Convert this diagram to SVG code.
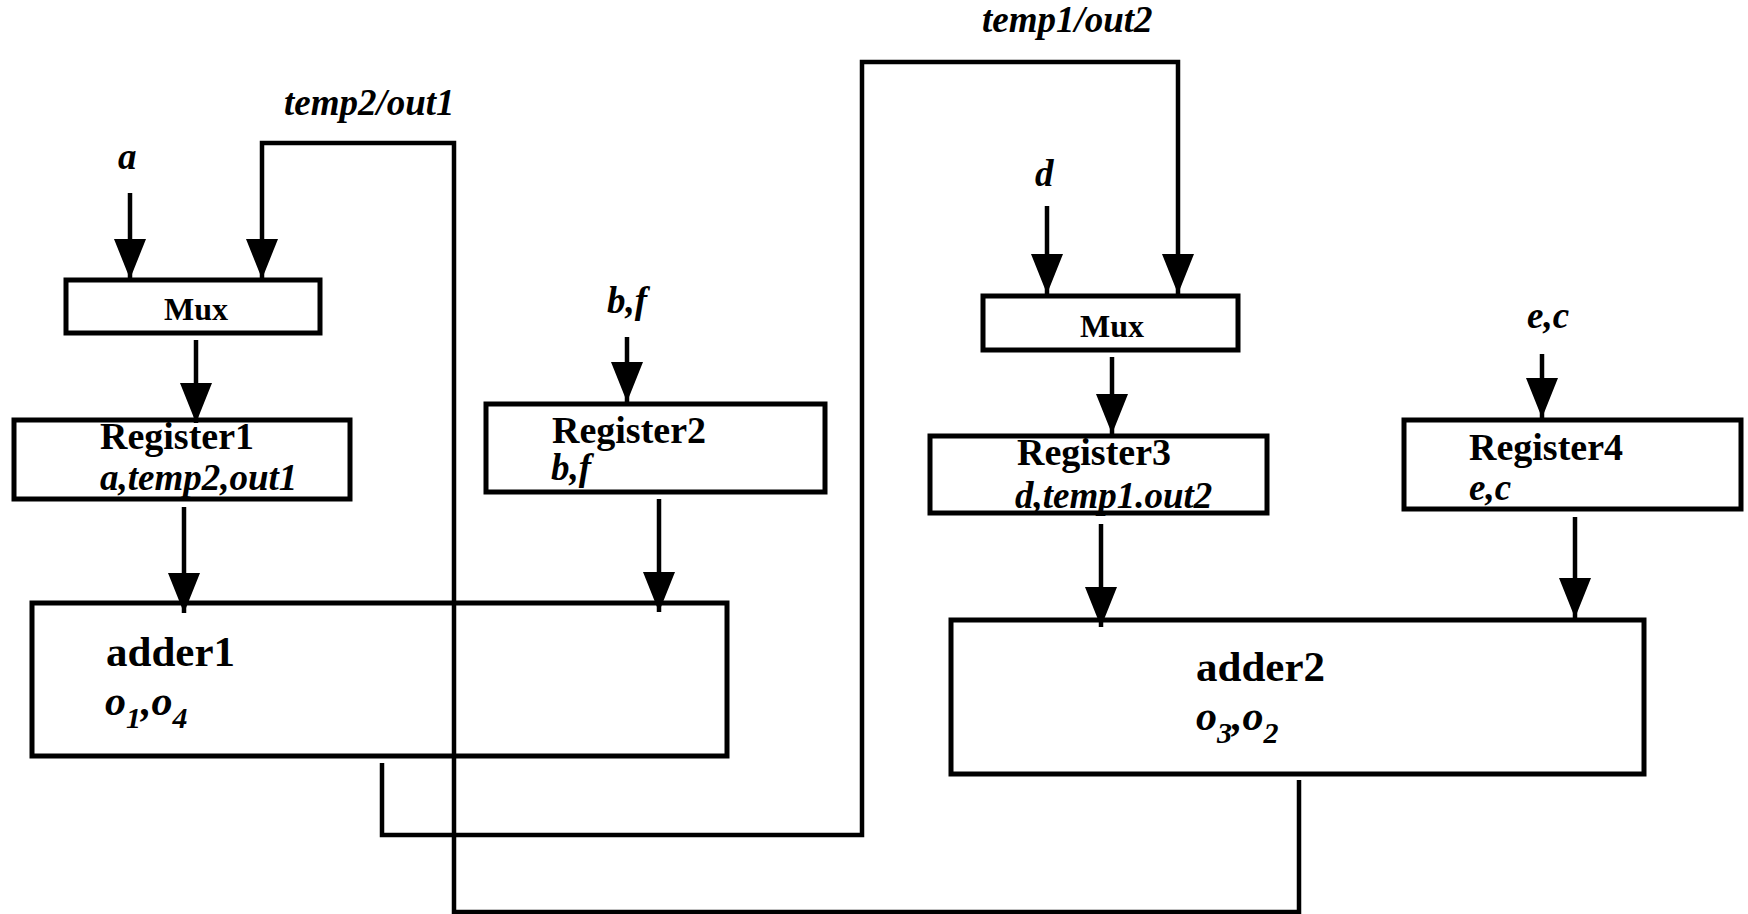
<svg xmlns="http://www.w3.org/2000/svg" width="1748" height="914" viewBox="0 0 1748 914">
  <style>
    .box { fill: #fff; stroke: #000; stroke-width: 5; }
    .wire { fill: none; stroke: #000; stroke-width: 4.5; }
    .t { font-family: "Liberation Serif", "Times New Roman", serif; font-weight: bold; fill: #000; }
    .reg { font-size: 38px; }
    .mux { font-size: 32px; text-anchor: middle; }
    .var { font-size: 37px; font-style: italic; }
    .add { font-size: 43px; }
    .ops { font-size: 42px; font-style: italic; }
    .sub { font-size: 30px; }
  </style>
  <defs>
    <marker id="arrow" markerUnits="userSpaceOnUse" markerWidth="40" markerHeight="32" refX="40" refY="16" orient="auto">
      <path d="M0,0 L40,16 L0,32 Z" fill="#000"/>
    </marker>
  </defs>
  <rect width="1748" height="914" fill="#fff"/>

  <!-- left datapath -->
  <g id="mux1">
    <rect class="box" x="66" y="280" width="254" height="53"/>
    <text class="t mux" x="196" y="320">Mux</text>
  </g>
  <g id="register1">
    <rect class="box" x="14" y="420" width="336" height="79"/>
    <text class="t reg" x="100" y="449">Register1</text>
    <text class="t var" x="100" y="490">a,temp2,out1</text>
  </g>
  <g id="register2">
    <rect class="box" x="486" y="404" width="339" height="88"/>
    <text class="t reg" x="552" y="443">Register2</text>
    <text class="t var" x="551" y="480">b,f</text>
  </g>
  <g id="adder1">
    <rect class="box" x="32" y="603" width="695" height="153"/>
    <text class="t add" x="106" y="666">adder1</text>
    <text class="t ops" x="105" y="715">o<tspan class="sub" dy="13">1</tspan><tspan dy="-13">,o</tspan><tspan class="sub" dy="13">4</tspan></text>
  </g>

  <!-- right datapath -->
  <g id="mux2">
    <rect class="box" x="983" y="296" width="255" height="54"/>
    <text class="t mux" x="1112" y="337">Mux</text>
  </g>
  <g id="register3">
    <rect class="box" x="930" y="436" width="337" height="77"/>
    <text class="t reg" x="1017" y="465">Register3</text>
    <text class="t var" x="1015" y="508">d,temp1.out2</text>
  </g>
  <g id="register4">
    <rect class="box" x="1404" y="420" width="337" height="89"/>
    <text class="t reg" x="1469" y="460">Register4</text>
    <text class="t var" x="1469" y="500">e,c</text>
  </g>
  <g id="adder2">
    <rect class="box" x="951" y="620" width="693" height="154"/>
    <text class="t add" x="1196" y="681">adder2</text>
    <text class="t ops" x="1196" y="730">o<tspan class="sub" dy="13">3</tspan><tspan dy="-13">,o</tspan><tspan class="sub" dy="13">2</tspan></text>
  </g>

  <!-- input labels -->
  <g id="labels">
    <text class="t var" x="118" y="169">a</text>
    <text class="t var" x="284" y="115">temp2/out1</text>
    <text class="t var" x="607" y="313">b,f</text>
    <text class="t var" x="982" y="32">temp1/out2</text>
    <text class="t var" x="1035" y="186">d</text>
    <text class="t var" x="1527" y="328">e,c</text>
  </g>

  <!-- connectors -->
  <g id="connectors">
    <line class="wire" x1="130" y1="193" x2="130" y2="279" marker-end="url(#arrow)"/>
    <line class="wire" x1="196" y1="340" x2="196" y2="423" marker-end="url(#arrow)"/>
    <line class="wire" x1="184" y1="507" x2="184" y2="613" marker-end="url(#arrow)"/>
    <line class="wire" x1="627" y1="337" x2="627" y2="402" marker-end="url(#arrow)"/>
    <line class="wire" x1="659" y1="499" x2="659" y2="612" marker-end="url(#arrow)"/>
    <line class="wire" x1="1047" y1="206" x2="1047" y2="294" marker-end="url(#arrow)"/>
    <line class="wire" x1="1112" y1="357" x2="1112" y2="434" marker-end="url(#arrow)"/>
    <line class="wire" x1="1101" y1="524" x2="1101" y2="627" marker-end="url(#arrow)"/>
    <line class="wire" x1="1542" y1="354" x2="1542" y2="418" marker-end="url(#arrow)"/>
    <line class="wire" x1="1575" y1="517" x2="1575" y2="618" marker-end="url(#arrow)"/>
    <!-- adder2 result fed back to mux1 -->
    <path class="wire" d="M1299,780 V912 H454 V143 H262 V279" marker-end="url(#arrow)"/>
    <!-- adder1 result fed back to mux2 -->
    <path class="wire" d="M382,763 V835 H862 V62 H1178 V294" marker-end="url(#arrow)"/>
  </g>
</svg>
